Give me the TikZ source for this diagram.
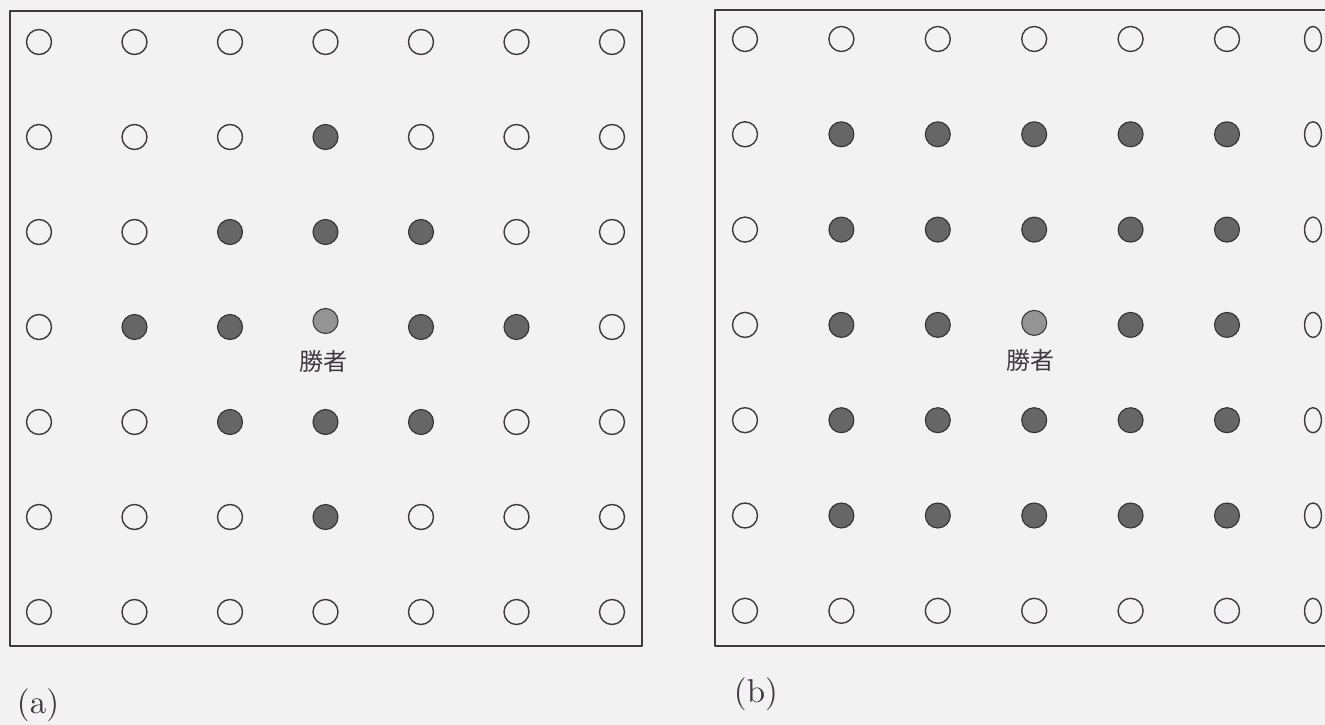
\documentclass[tikz,border=0pt]{standalone}
\usepackage{fontspec}
\newfontfamily\jpfont{Noto Sans CJK JP}
\definecolor{ink}{RGB}{66,56,66}
\definecolor{paper}{RGB}{242,242,243}
\tikzset{
  open/.style={draw=ink,line width=1.4pt,fill=paper},
  hit/.style={draw=ink!85!black,line width=1.1pt,fill=black!60},
  best/.style={draw=ink,line width=1.1pt,fill=black!42},
  winnerlabel/.style={text=ink,font=\jpfont\fontsize{24}{28}\selectfont},
  panellabel/.style={text=ink,font=\normalsize}
}
\begin{document}
\begin{tikzpicture}[x=1pt,y=-1pt,line join=round]
  % Match the scanned page frame.
  \useasboundingbox (0,0) rectangle (1325,725);
  \fill[paper] (0,0) rectangle (1325,725);

  % Panel frames; (b) runs off the right edge of the page.
  \draw[ink,line width=1.6pt] (10,11) rectangle (642,646);
  \draw[ink,line width=1.6pt] (1325,10) -- (715,10) -- (715,646) -- (1325,646);

  % (a) neighbourhood is a diamond round the winner.
  \foreach \c in {0,...,6}{
    \foreach \r in {0,...,6}{
      \pgfmathsetmacro\px{39+95.5*\c}
      \pgfmathsetmacro\py{42+95*\r}
      \pgfmathtruncatemacro\d{abs(\c-3)+abs(\r-3)}
      \ifnum\d=0
        \draw[best] (\px,\py-6) circle[radius=12.5pt];
      \else\ifnum\d<3
        \draw[hit] (\px,\py) circle[radius=12.5pt];
      \else
        \draw[open] (\px,\py) circle[radius=12.5pt];
      \fi\fi
    }
  }

  % (b) neighbourhood is a square round the winner.
  \foreach \c in {0,...,5}{
    \foreach \r in {0,...,6}{
      \pgfmathsetmacro\px{745+96.4*\c}
      \pgfmathsetmacro\py{39+95.3*\r}
      \pgfmathtruncatemacro\d{max(abs(\c-3),abs(\r-3))}
      \ifnum\d=0
        \draw[best] (\px,\py-2) circle[radius=12.5pt];
      \else\ifnum\d<3
        \draw[hit] (\px,\py) circle[radius=12.5pt];
      \else
        \draw[open] (\px,\py) circle[radius=12.5pt];
      \fi\fi
    }
  }
  % Last column is squeezed by the page curl.
  \foreach \r in {0,...,6}{
    \draw[open] (1313,39+95.3*\r) ellipse[x radius=8.5pt,y radius=12.5pt];
  }

  % Labels.
  \node[winnerlabel] (winA) at (323,361) {勝者};
  \node[winnerlabel] (winB) at (1030,360) {勝者};
  \node[panellabel] (capA) at (38,705) {\scalebox{3.3}{(a)}};
  \node[panellabel] (capB) at (756,694) {\scalebox{3.3}{(b)}};
\end{tikzpicture}
\end{document}
